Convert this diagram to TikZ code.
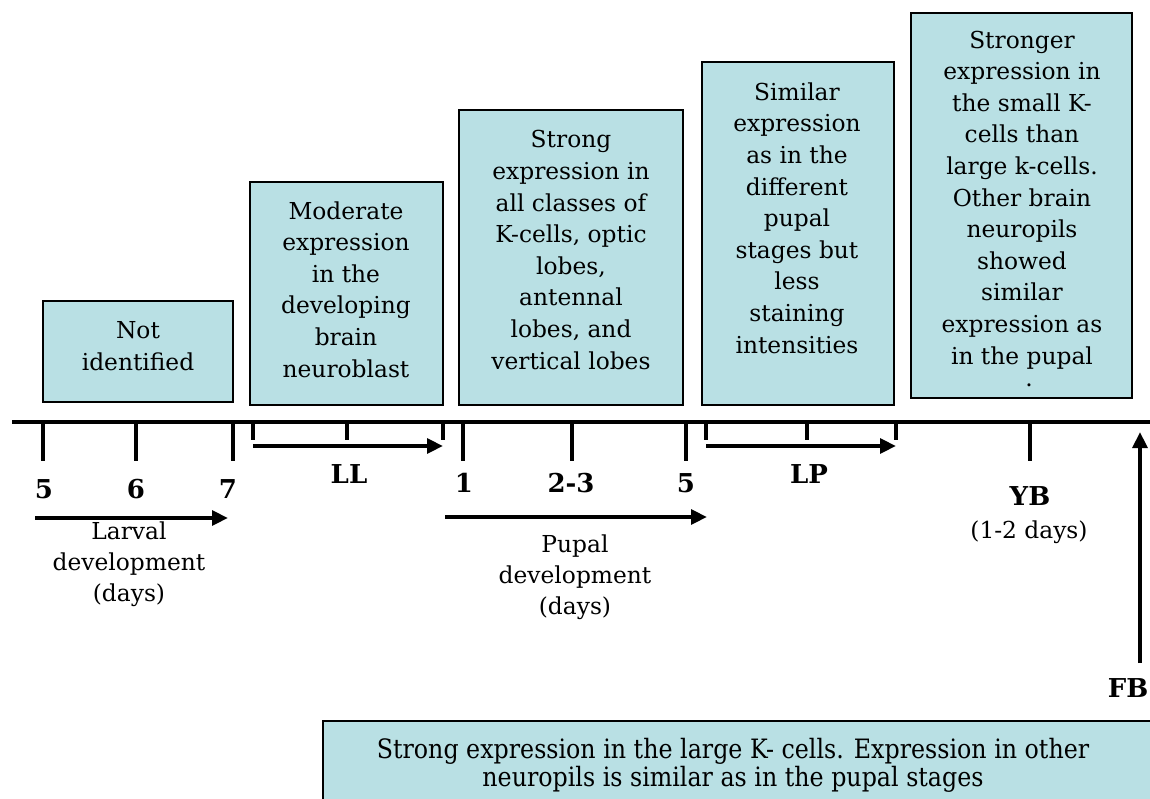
\documentclass[tikz,border=0pt]{standalone}
\usepackage{fontspec}
\setmainfont{DejaVu Serif}
\newfontfamily\condfont[FakeStretch=0.89]{DejaVu Serif}
\usetikzlibrary{arrows.meta}
\definecolor{boxfill}{RGB}{185,224,228}
\newcommand\bxfont{\fontsize{17.5}{23.7}\selectfont}
\newcommand\lbfont{\bfseries\fontsize{19.5}{22}\selectfont}
\newcommand\sublbfont{\fontsize{17.5}{23}\selectfont}
\newcommand\cdfont{\condfont\fontsize{20}{21}\selectfont}
\tikzset{
  box/.style={draw=black, line width=1.2pt, fill=boxfill, inner sep=0pt, outer sep=0pt},
  txt/.style={font=\bxfont, align=center, inner sep=0pt, anchor=base},
  lbl/.style={font=\lbfont, inner sep=0pt, anchor=base},
  sublbl/.style={font=\sublbfont, align=center, inner sep=0pt, anchor=base},
  axisline/.style={line width=3.5pt},
  maintick/.style={line width=3pt},
  smalltick/.style={line width=2.5pt},
  arr/.style={line width=3pt, -{Triangle[length=12pt,width=11pt]}},
}
\begin{document}
\begin{tikzpicture}[x=0.75pt,y=-0.75pt]
\clip (0,0) rectangle (1150,799);
\fill[white] (0,0) rectangle (1150,799);

% boxes
\node[box, minimum width=142.5pt, minimum height=75.75pt] (b1) at (138,351.5) {};
\node[box, minimum width=144.75pt, minimum height=167.25pt] (b2) at (346.5,293.5) {};
\node[box, minimum width=168pt, minimum height=221.25pt] (b3) at (571,257.5) {};
\node[box, minimum width=144pt, minimum height=257.25pt] (b4) at (798,233.5) {};
\node[box, minimum width=165.75pt, minimum height=288.75pt] (b5) at (1021.5,205.5) {};
\node[box, minimum width=627.75pt, minimum height=66.75pt] (b6) at (741.5,765.5) {};

% box texts (anchored at the baseline of the last line)
\node[txt] (t1) at (138,370) {Not\\identified};
\node[txt] (t2) at (346,377) {Moderate\\expression\\in the\\developing\\brain\\neuroblast};
\node[txt] (t3) at (571,369) {Strong\\expression in\\all classes of\\K-cells, optic\\lobes,\\antennal\\lobes, and\\vertical lobes};
\node[txt] (t4) at (797,353) {Similar\\expression\\as in the\\different\\pupal\\stages but\\less\\staining\\intensities};
\node[txt] (t5) at (1022,364) {Stronger\\expression in\\the small K-\\cells than\\large k-cells.\\Other brain\\neuropils\\showed\\similar\\expression as\\in the pupal};
\node[txt] (t5dot) at (1029,386) {.};
\node[font=\cdfont, align=center, inner sep=0pt, anchor=base] (t6) at (733,786) {Strong expression in the large K- cells. Expression in other\\neuropils is similar as in the pupal stages};

% axis
\coordinate (axL) at (12,422);
\coordinate (axR) at (1160,422);
\draw[axisline] (axL) -- (axR);

% main ticks
\foreach \n/\x in {k5/43,k6/136,k7/233,p1/463,p23/572,p5/686,yb/1030}{
  \coordinate (\n top) at (\x,422);
  \coordinate (\n bot) at (\x,461);
  \draw[maintick] (\n top) -- (\n bot);
}
% small ticks
\foreach \n/\x in {la/253,lb/347,lc/443,pa/706,pb/807,pc/896}{
  \coordinate (\n top) at (\x,422);
  \coordinate (\n bot) at (\x,440);
  \draw[smalltick] (\n top) -- (\n bot);
}

% arrows
\coordinate (llS) at (253,446); \coordinate (llE) at (443,446);
\draw[arr] (llS) -- (llE);
\coordinate (lpS) at (706,446); \coordinate (lpE) at (896,446);
\draw[arr] (lpS) -- (lpE);
\coordinate (ldS) at (35,518); \coordinate (ldE) at (228,518);
\draw[arr] (ldS) -- (ldE);
\coordinate (pdS) at (445,517); \coordinate (pdE) at (707,517);
\draw[arr] (pdS) -- (pdE);
\coordinate (fbS) at (1140,663); \coordinate (fbE) at (1140,432);
\draw[arr] (fbS) -- (fbE);

% labels
\node[lbl] (l5) at (44,498) {5};
\node[lbl] (l6) at (136,498) {6};
\node[lbl] (l7) at (228,498) {7};
\node[lbl] (lLL) at (349,483) {LL};
\node[lbl] (l1) at (464,492) {1};
\node[lbl] (l23) at (571,492) {2-3};
\node[lbl] (lp5) at (686,492) {5};
\node[lbl] (lLP) at (809,483) {LP};
\node[lbl] (lYB) at (1030,505) {YB};
\node[sublbl] (lYBd) at (1029,538) {(1-2 days)};
\node[lbl] (lFB) at (1128,697) {FB};
\node[sublbl] (lLar) at (129,601) {Larval\\development\\(days)};
\node[sublbl] (lPup) at (575,614) {Pupal\\development\\(days)};
\end{tikzpicture}
\end{document}
